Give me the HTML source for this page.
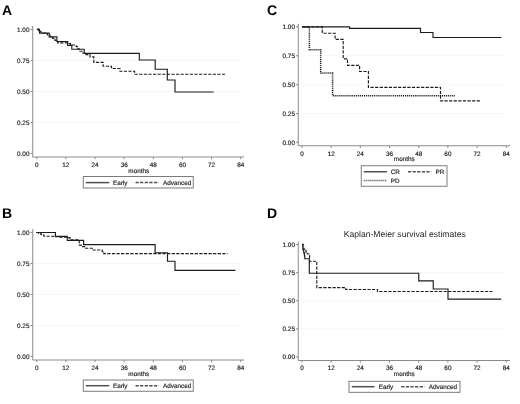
<!DOCTYPE html>
<html lang="en">
<head>
<meta charset="utf-8">
<title>Kaplan-Meier survival estimates</title>
<style>
html,body{margin:0;padding:0;background:#fff;}
body{width:520px;height:404px;overflow:hidden;font-family:"Liberation Sans", Arial, Helvetica, sans-serif;}
svg{display:block;filter:blur(0.3px);}
svg text.s{stroke:#262626;stroke-width:0.18px;}
</style>
</head>
<body>
<svg width="520" height="404" viewBox="0 0 520 404" text-rendering="geometricPrecision" font-family='"Liberation Sans", Arial, Helvetica, sans-serif'>
<rect width="520" height="404" fill="#fff"/>
<text x="2.00" y="14.80" font-size="14" font-weight="bold" fill="#000">A</text>
<text x="2.00" y="217.70" font-size="14" font-weight="bold" fill="#000">B</text>
<text x="267.00" y="14.90" font-size="14" font-weight="bold" fill="#000">C</text>
<text x="267.10" y="217.70" font-size="14" font-weight="bold" fill="#000">D</text>
<line x1="33.75" y1="60.50" x2="240.00" y2="60.50" stroke="#f4f4f4" stroke-width="0.7"/>
<line x1="33.75" y1="91.50" x2="240.00" y2="91.50" stroke="#f4f4f4" stroke-width="0.7"/>
<line x1="33.75" y1="122.50" x2="240.00" y2="122.50" stroke="#f4f4f4" stroke-width="0.7"/>
<line x1="32.75" y1="26.00" x2="32.75" y2="157.00" stroke="#858585" stroke-width="0.95"/>
<line x1="32.75" y1="157.00" x2="244.00" y2="157.00" stroke="#858585" stroke-width="0.95"/>
<line x1="30.55" y1="29.50" x2="32.75" y2="29.50" stroke="#858585" stroke-width="0.95"/>
<text class="s" x="29.45" y="31.80" text-anchor="end" font-size="6.35" fill="#262626">1.00</text>
<line x1="30.55" y1="60.50" x2="32.75" y2="60.50" stroke="#858585" stroke-width="0.95"/>
<text class="s" x="29.45" y="62.80" text-anchor="end" font-size="6.35" fill="#262626">0.75</text>
<line x1="30.55" y1="91.50" x2="32.75" y2="91.50" stroke="#858585" stroke-width="0.95"/>
<text class="s" x="29.45" y="93.80" text-anchor="end" font-size="6.35" fill="#262626">0.50</text>
<line x1="30.55" y1="122.50" x2="32.75" y2="122.50" stroke="#858585" stroke-width="0.95"/>
<text class="s" x="29.45" y="124.80" text-anchor="end" font-size="6.35" fill="#262626">0.25</text>
<line x1="30.55" y1="153.50" x2="32.75" y2="153.50" stroke="#858585" stroke-width="0.95"/>
<text class="s" x="29.45" y="155.80" text-anchor="end" font-size="6.35" fill="#262626">0.00</text>
<line x1="36.75" y1="157.00" x2="36.75" y2="159.20" stroke="#858585" stroke-width="0.95"/>
<text class="s" x="36.75" y="166.80" text-anchor="middle" font-size="6.35" fill="#262626">0</text>
<line x1="65.89" y1="157.00" x2="65.89" y2="159.20" stroke="#858585" stroke-width="0.95"/>
<text class="s" x="65.89" y="166.80" text-anchor="middle" font-size="6.35" fill="#262626">12</text>
<line x1="95.03" y1="157.00" x2="95.03" y2="159.20" stroke="#858585" stroke-width="0.95"/>
<text class="s" x="95.03" y="166.80" text-anchor="middle" font-size="6.35" fill="#262626">24</text>
<line x1="124.17" y1="157.00" x2="124.17" y2="159.20" stroke="#858585" stroke-width="0.95"/>
<text class="s" x="124.17" y="166.80" text-anchor="middle" font-size="6.35" fill="#262626">36</text>
<line x1="153.31" y1="157.00" x2="153.31" y2="159.20" stroke="#858585" stroke-width="0.95"/>
<text class="s" x="153.31" y="166.80" text-anchor="middle" font-size="6.35" fill="#262626">48</text>
<line x1="182.45" y1="157.00" x2="182.45" y2="159.20" stroke="#858585" stroke-width="0.95"/>
<text class="s" x="182.45" y="166.80" text-anchor="middle" font-size="6.35" fill="#262626">60</text>
<line x1="211.59" y1="157.00" x2="211.59" y2="159.20" stroke="#858585" stroke-width="0.95"/>
<text class="s" x="211.59" y="166.80" text-anchor="middle" font-size="6.35" fill="#262626">72</text>
<line x1="240.73" y1="157.00" x2="240.73" y2="159.20" stroke="#858585" stroke-width="0.95"/>
<text class="s" x="240.73" y="166.80" text-anchor="middle" font-size="6.35" fill="#262626">84</text>
<text class="s" x="138.75" y="172.50" text-anchor="middle" font-size="6.35" fill="#262626">months</text>
<path d="M36.90 29.30 H38.50 V30.60 H40.20 V32.00 H42.00 V33.00 H45.40 V33.60 H47.50 V35.00 H50.00 V36.60 H52.50 V38.30 H55.00 V40.30 H57.70 V42.80 H68.50 V43.50 H70.50 V45.00 H76.20 V46.60 H77.50 V48.80 H79.20 V51.20 H82.00 V53.00 H86.00 V54.60 H90.00 V56.90 H93.80 V62.30 H103.10 V66.20 H111.50 V68.50 H120.00 V71.20 H134.60 V74.20 H225.00" fill="none" stroke="#1c1c1c" stroke-width="1.15" stroke-dasharray="3.2 1.4" stroke-linejoin="miter"/>
<path d="M36.90 29.30 H39.50 V33.10 H49.20 V36.90 H56.90 V41.50 H67.70 V45.40 H71.80 V49.20 H84.20 V53.30 H139.30 V60.00 H155.20 V69.20 H167.30 V80.00 H175.00 V92.00 H213.75" fill="none" stroke="#1c1c1c" stroke-width="1.15" stroke-linejoin="miter"/>
<rect x="83.25" y="176.50" width="110.00" height="11.50" fill="#fff" stroke="#6e6e6e" stroke-width="0.9"/>
<line x1="85.75" y1="182.60" x2="109.25" y2="182.60" stroke="#505050" stroke-width="1.5"/>
<text class="s" x="113.00" y="184.90" font-size="6.35" fill="#262626">Early</text>
<line x1="135.50" y1="182.60" x2="158.75" y2="182.60" stroke="#505050" stroke-width="1.5" stroke-dasharray="3.2 1.4"/>
<text class="s" x="163.00" y="184.90" font-size="6.35" fill="#262626">Advanced</text>
<line x1="33.75" y1="263.50" x2="240.00" y2="263.50" stroke="#f4f4f4" stroke-width="0.7"/>
<line x1="33.75" y1="294.50" x2="240.00" y2="294.50" stroke="#f4f4f4" stroke-width="0.7"/>
<line x1="33.75" y1="325.50" x2="240.00" y2="325.50" stroke="#f4f4f4" stroke-width="0.7"/>
<line x1="32.75" y1="229.00" x2="32.75" y2="360.00" stroke="#858585" stroke-width="0.95"/>
<line x1="32.75" y1="360.00" x2="244.00" y2="360.00" stroke="#858585" stroke-width="0.95"/>
<line x1="30.55" y1="232.50" x2="32.75" y2="232.50" stroke="#858585" stroke-width="0.95"/>
<text class="s" x="29.45" y="234.80" text-anchor="end" font-size="6.35" fill="#262626">1.00</text>
<line x1="30.55" y1="263.50" x2="32.75" y2="263.50" stroke="#858585" stroke-width="0.95"/>
<text class="s" x="29.45" y="265.80" text-anchor="end" font-size="6.35" fill="#262626">0.75</text>
<line x1="30.55" y1="294.50" x2="32.75" y2="294.50" stroke="#858585" stroke-width="0.95"/>
<text class="s" x="29.45" y="296.80" text-anchor="end" font-size="6.35" fill="#262626">0.50</text>
<line x1="30.55" y1="325.50" x2="32.75" y2="325.50" stroke="#858585" stroke-width="0.95"/>
<text class="s" x="29.45" y="327.80" text-anchor="end" font-size="6.35" fill="#262626">0.25</text>
<line x1="30.55" y1="356.50" x2="32.75" y2="356.50" stroke="#858585" stroke-width="0.95"/>
<text class="s" x="29.45" y="358.80" text-anchor="end" font-size="6.35" fill="#262626">0.00</text>
<line x1="36.75" y1="360.00" x2="36.75" y2="362.20" stroke="#858585" stroke-width="0.95"/>
<text class="s" x="36.75" y="369.80" text-anchor="middle" font-size="6.35" fill="#262626">0</text>
<line x1="65.89" y1="360.00" x2="65.89" y2="362.20" stroke="#858585" stroke-width="0.95"/>
<text class="s" x="65.89" y="369.80" text-anchor="middle" font-size="6.35" fill="#262626">12</text>
<line x1="95.03" y1="360.00" x2="95.03" y2="362.20" stroke="#858585" stroke-width="0.95"/>
<text class="s" x="95.03" y="369.80" text-anchor="middle" font-size="6.35" fill="#262626">24</text>
<line x1="124.17" y1="360.00" x2="124.17" y2="362.20" stroke="#858585" stroke-width="0.95"/>
<text class="s" x="124.17" y="369.80" text-anchor="middle" font-size="6.35" fill="#262626">36</text>
<line x1="153.31" y1="360.00" x2="153.31" y2="362.20" stroke="#858585" stroke-width="0.95"/>
<text class="s" x="153.31" y="369.80" text-anchor="middle" font-size="6.35" fill="#262626">48</text>
<line x1="182.45" y1="360.00" x2="182.45" y2="362.20" stroke="#858585" stroke-width="0.95"/>
<text class="s" x="182.45" y="369.80" text-anchor="middle" font-size="6.35" fill="#262626">60</text>
<line x1="211.59" y1="360.00" x2="211.59" y2="362.20" stroke="#858585" stroke-width="0.95"/>
<text class="s" x="211.59" y="369.80" text-anchor="middle" font-size="6.35" fill="#262626">72</text>
<line x1="240.73" y1="360.00" x2="240.73" y2="362.20" stroke="#858585" stroke-width="0.95"/>
<text class="s" x="240.73" y="369.80" text-anchor="middle" font-size="6.35" fill="#262626">84</text>
<text class="s" x="138.75" y="375.50" text-anchor="middle" font-size="6.35" fill="#262626">months</text>
<path d="M36.40 232.50 H38.50 V233.40 H41.00 V234.60 H43.80 V236.20 H53.80 V236.60 H58.50 V237.20 H66.90 V237.60 H70.00 V239.70 H77.70 V240.50 H79.20 V245.10 H81.50 V246.60 H84.60 V248.20 H93.10 V250.00 H102.30 V251.60 H103.80 V253.60 H227.50" fill="none" stroke="#1c1c1c" stroke-width="1.15" stroke-dasharray="3.2 1.4" stroke-linejoin="miter"/>
<path d="M36.40 232.50 H55.40 V236.40 H67.30 V240.40 H83.60 V244.60 H155.10 V252.70 H167.50 V261.20 H175.00 V270.30 H235.50" fill="none" stroke="#1c1c1c" stroke-width="1.15" stroke-linejoin="miter"/>
<rect x="83.25" y="380.00" width="110.00" height="11.25" fill="#fff" stroke="#6e6e6e" stroke-width="0.9"/>
<line x1="85.75" y1="385.70" x2="109.25" y2="385.70" stroke="#505050" stroke-width="1.5"/>
<text class="s" x="113.00" y="388.00" font-size="6.35" fill="#262626">Early</text>
<line x1="135.50" y1="385.70" x2="158.75" y2="385.70" stroke="#505050" stroke-width="1.5" stroke-dasharray="3.2 1.4"/>
<text class="s" x="163.00" y="388.00" font-size="6.35" fill="#262626">Advanced</text>
<line x1="299.25" y1="55.75" x2="506.00" y2="55.75" stroke="#f4f4f4" stroke-width="0.7"/>
<line x1="299.25" y1="84.75" x2="506.00" y2="84.75" stroke="#f4f4f4" stroke-width="0.7"/>
<line x1="299.25" y1="113.50" x2="506.00" y2="113.50" stroke="#f4f4f4" stroke-width="0.7"/>
<line x1="298.25" y1="23.75" x2="298.25" y2="145.75" stroke="#858585" stroke-width="0.95"/>
<line x1="298.25" y1="145.75" x2="510.00" y2="145.75" stroke="#858585" stroke-width="0.95"/>
<line x1="296.05" y1="26.75" x2="298.25" y2="26.75" stroke="#858585" stroke-width="0.95"/>
<text class="s" x="294.95" y="29.05" text-anchor="end" font-size="6.35" fill="#262626">1.00</text>
<line x1="296.05" y1="55.75" x2="298.25" y2="55.75" stroke="#858585" stroke-width="0.95"/>
<text class="s" x="294.95" y="58.05" text-anchor="end" font-size="6.35" fill="#262626">0.75</text>
<line x1="296.05" y1="84.75" x2="298.25" y2="84.75" stroke="#858585" stroke-width="0.95"/>
<text class="s" x="294.95" y="87.05" text-anchor="end" font-size="6.35" fill="#262626">0.50</text>
<line x1="296.05" y1="113.50" x2="298.25" y2="113.50" stroke="#858585" stroke-width="0.95"/>
<text class="s" x="294.95" y="115.80" text-anchor="end" font-size="6.35" fill="#262626">0.25</text>
<line x1="296.05" y1="142.25" x2="298.25" y2="142.25" stroke="#858585" stroke-width="0.95"/>
<text class="s" x="294.95" y="144.55" text-anchor="end" font-size="6.35" fill="#262626">0.00</text>
<line x1="302.00" y1="145.75" x2="302.00" y2="147.95" stroke="#858585" stroke-width="0.95"/>
<text class="s" x="302.00" y="155.55" text-anchor="middle" font-size="6.35" fill="#262626">0</text>
<line x1="331.18" y1="145.75" x2="331.18" y2="147.95" stroke="#858585" stroke-width="0.95"/>
<text class="s" x="331.18" y="155.55" text-anchor="middle" font-size="6.35" fill="#262626">12</text>
<line x1="360.36" y1="145.75" x2="360.36" y2="147.95" stroke="#858585" stroke-width="0.95"/>
<text class="s" x="360.36" y="155.55" text-anchor="middle" font-size="6.35" fill="#262626">24</text>
<line x1="389.54" y1="145.75" x2="389.54" y2="147.95" stroke="#858585" stroke-width="0.95"/>
<text class="s" x="389.54" y="155.55" text-anchor="middle" font-size="6.35" fill="#262626">36</text>
<line x1="418.72" y1="145.75" x2="418.72" y2="147.95" stroke="#858585" stroke-width="0.95"/>
<text class="s" x="418.72" y="155.55" text-anchor="middle" font-size="6.35" fill="#262626">48</text>
<line x1="447.90" y1="145.75" x2="447.90" y2="147.95" stroke="#858585" stroke-width="0.95"/>
<text class="s" x="447.90" y="155.55" text-anchor="middle" font-size="6.35" fill="#262626">60</text>
<line x1="477.08" y1="145.75" x2="477.08" y2="147.95" stroke="#858585" stroke-width="0.95"/>
<text class="s" x="477.08" y="155.55" text-anchor="middle" font-size="6.35" fill="#262626">72</text>
<line x1="506.26" y1="145.75" x2="506.26" y2="147.95" stroke="#858585" stroke-width="0.95"/>
<text class="s" x="506.26" y="155.55" text-anchor="middle" font-size="6.35" fill="#262626">84</text>
<text class="s" x="404.25" y="161.25" text-anchor="middle" font-size="6.35" fill="#262626">months</text>
<path d="M302.20 26.90 H309.40 V49.80 H320.70 V73.00 H332.60 V95.80 H455.50" fill="none" stroke="#1c1c1c" stroke-width="1.5" stroke-dasharray="1.1 0.85" stroke-linejoin="miter"/>
<path d="M302.20 26.90 H322.30 V33.20 H335.10 V39.40 H343.20 V58.80 H347.50 V65.30 H359.60 V71.50 H368.40 V87.40 H440.50 V100.80 H480.00" fill="none" stroke="#1c1c1c" stroke-width="1.15" stroke-dasharray="3.2 1.4" stroke-linejoin="miter"/>
<path d="M302.20 26.90 H349.50 V28.40 H420.50 V32.50 H433.00 V37.50 H501.25" fill="none" stroke="#1c1c1c" stroke-width="1.15" stroke-linejoin="miter"/>
<rect x="361.25" y="165.75" width="85.75" height="20.50" fill="#fff" stroke="#6e6e6e" stroke-width="0.9"/>
<line x1="363.75" y1="171.75" x2="387.00" y2="171.75" stroke="#505050" stroke-width="1.5"/>
<text class="s" x="390.75" y="174.05" font-size="6.35" fill="#262626">CR</text>
<line x1="408.00" y1="171.75" x2="431.25" y2="171.75" stroke="#505050" stroke-width="1.5" stroke-dasharray="3.2 1.4"/>
<text class="s" x="435.50" y="174.05" font-size="6.35" fill="#262626">PR</text>
<line x1="363.75" y1="180.50" x2="387.00" y2="180.50" stroke="#505050" stroke-width="1.5" stroke-dasharray="1.1 0.85"/>
<text class="s" x="390.75" y="182.80" font-size="6.35" fill="#262626">PD</text>
<line x1="299.25" y1="272.65" x2="506.00" y2="272.65" stroke="#f4f4f4" stroke-width="0.7"/>
<line x1="299.25" y1="300.80" x2="506.00" y2="300.80" stroke="#f4f4f4" stroke-width="0.7"/>
<line x1="299.25" y1="328.90" x2="506.00" y2="328.90" stroke="#f4f4f4" stroke-width="0.7"/>
<line x1="298.25" y1="241.50" x2="298.25" y2="360.50" stroke="#858585" stroke-width="0.95"/>
<line x1="298.25" y1="360.50" x2="510.00" y2="360.50" stroke="#858585" stroke-width="0.95"/>
<line x1="296.05" y1="244.50" x2="298.25" y2="244.50" stroke="#858585" stroke-width="0.95"/>
<text class="s" x="294.95" y="246.80" text-anchor="end" font-size="6.35" fill="#262626">1.00</text>
<line x1="296.05" y1="272.65" x2="298.25" y2="272.65" stroke="#858585" stroke-width="0.95"/>
<text class="s" x="294.95" y="274.95" text-anchor="end" font-size="6.35" fill="#262626">0.75</text>
<line x1="296.05" y1="300.80" x2="298.25" y2="300.80" stroke="#858585" stroke-width="0.95"/>
<text class="s" x="294.95" y="303.10" text-anchor="end" font-size="6.35" fill="#262626">0.50</text>
<line x1="296.05" y1="328.90" x2="298.25" y2="328.90" stroke="#858585" stroke-width="0.95"/>
<text class="s" x="294.95" y="331.20" text-anchor="end" font-size="6.35" fill="#262626">0.25</text>
<line x1="296.05" y1="357.00" x2="298.25" y2="357.00" stroke="#858585" stroke-width="0.95"/>
<text class="s" x="294.95" y="359.30" text-anchor="end" font-size="6.35" fill="#262626">0.00</text>
<line x1="302.00" y1="360.50" x2="302.00" y2="362.70" stroke="#858585" stroke-width="0.95"/>
<text class="s" x="302.00" y="370.30" text-anchor="middle" font-size="6.35" fill="#262626">0</text>
<line x1="331.18" y1="360.50" x2="331.18" y2="362.70" stroke="#858585" stroke-width="0.95"/>
<text class="s" x="331.18" y="370.30" text-anchor="middle" font-size="6.35" fill="#262626">12</text>
<line x1="360.36" y1="360.50" x2="360.36" y2="362.70" stroke="#858585" stroke-width="0.95"/>
<text class="s" x="360.36" y="370.30" text-anchor="middle" font-size="6.35" fill="#262626">24</text>
<line x1="389.54" y1="360.50" x2="389.54" y2="362.70" stroke="#858585" stroke-width="0.95"/>
<text class="s" x="389.54" y="370.30" text-anchor="middle" font-size="6.35" fill="#262626">36</text>
<line x1="418.72" y1="360.50" x2="418.72" y2="362.70" stroke="#858585" stroke-width="0.95"/>
<text class="s" x="418.72" y="370.30" text-anchor="middle" font-size="6.35" fill="#262626">48</text>
<line x1="447.90" y1="360.50" x2="447.90" y2="362.70" stroke="#858585" stroke-width="0.95"/>
<text class="s" x="447.90" y="370.30" text-anchor="middle" font-size="6.35" fill="#262626">60</text>
<line x1="477.08" y1="360.50" x2="477.08" y2="362.70" stroke="#858585" stroke-width="0.95"/>
<text class="s" x="477.08" y="370.30" text-anchor="middle" font-size="6.35" fill="#262626">72</text>
<line x1="506.26" y1="360.50" x2="506.26" y2="362.70" stroke="#858585" stroke-width="0.95"/>
<text class="s" x="506.26" y="370.30" text-anchor="middle" font-size="6.35" fill="#262626">84</text>
<text class="s" x="404.25" y="376.40" text-anchor="middle" font-size="6.35" fill="#262626">months</text>
<text x="404.75" y="237.2" text-anchor="middle" font-size="8.65" fill="#262626">Kaplan-Meier survival estimates</text>
<path d="M302.20 244.30 H302.90 V247.00 H303.70 V249.10 H305.90 V252.10 H307.40 V254.00 H308.90 V255.50 H309.60 V261.20 H316.80 V287.60 H345.80 V289.50 H377.50 V291.50 H492.50" fill="none" stroke="#1c1c1c" stroke-width="1.15" stroke-dasharray="3.2 1.4" stroke-linejoin="miter"/>
<path d="M302.20 244.30 H302.90 V249.90 H303.70 V252.90 H304.40 V255.80 H304.80 V258.70 H309.30 V273.20 H418.75 V280.80 H433.25 V289.00 H448.00 V299.10 H501.25" fill="none" stroke="#1c1c1c" stroke-width="1.15" stroke-linejoin="miter"/>
<rect x="349.00" y="381.30" width="111.00" height="11.00" fill="#fff" stroke="#6e6e6e" stroke-width="0.9"/>
<line x1="351.75" y1="386.70" x2="374.50" y2="386.70" stroke="#505050" stroke-width="1.5"/>
<text class="s" x="378.75" y="389.00" font-size="6.35" fill="#262626">Early</text>
<line x1="401.25" y1="386.70" x2="424.50" y2="386.70" stroke="#505050" stroke-width="1.5" stroke-dasharray="3.2 1.4"/>
<text class="s" x="428.75" y="389.00" font-size="6.35" fill="#262626">Advanced</text>
</svg>
</body>
</html>
